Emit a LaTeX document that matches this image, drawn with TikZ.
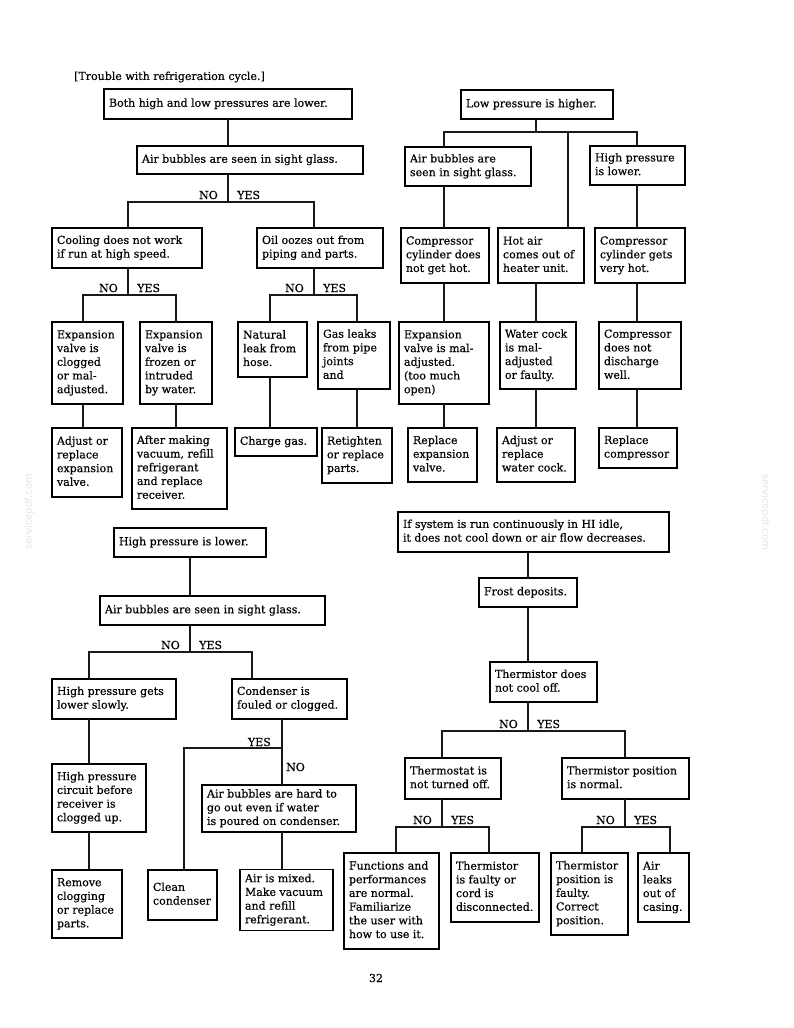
\documentclass[tikz,border=0pt]{standalone}
\usepackage{fontspec}
\setmainfont{DejaVu Serif}[FakeBold=0.4]
\setsansfont{DejaVu Sans}
\tikzset{
  tbox/.style={draw=black, line width=1.5pt, fill=white, inner xsep=5pt, inner ysep=3pt, outer sep=0pt,
    font=\fontsize{11}{13.7}\selectfont},
  conn/.style={draw=black!90, line width=1.2pt},
  lbl/.style={font=\fontsize{11}{13}\selectfont, inner sep=0pt},
  wmark/.style={text=black!10, font=\sffamily\fontsize{10}{12}\selectfont, inner sep=0pt},
}
\newcommand\bx[6]{\node[tbox, minimum width={(#4-#2)*1pt}, minimum height={(#5-#3)*1pt}] (#1) at ({(#2+#4)/2},{(#3+#5)/2})
  {\makebox[\dimexpr #4pt-#2pt-10pt\relax][l]{\begin{tabular}{@{}l@{}}#6\end{tabular}}};}
\newcommand\ny[2]{\node[lbl,anchor=base east] (#1n) at ([xshift=-10pt,yshift=3pt]#2) {NO};
  \node[lbl,anchor=base west] (#1y) at ([xshift=9pt,yshift=3pt]#2) {YES};}
\begin{document}
\begin{tikzpicture}[x=1pt,y=-1pt]
\useasboundingbox[fill=white] (0,0) rectangle (794,1028);

% watermarks and page number
\node[wmark, rotate=90] (wm1) at (29,512) {servicepdf.com};
\node[wmark, rotate=-90] (wm2) at (765,512) {servicepdf.com};
\node[lbl] (pg) at (376,978) {32};
\node[lbl, anchor=west] (title) at (74,77) {[Trouble with refrigeration cycle.]};

% ---------- top-left ----------
\bx{A1}{104}{89}{352}{119}{Both high and low pressures are lower.}
\bx{A2}{137}{146}{363}{174}{Air bubbles are seen in sight glass.}
\bx{A3}{52}{228}{202}{268}{Cooling does not work\\if run at high speed.}
\bx{A4}{257}{228}{383}{268}{Oil oozes out from\\piping and parts.}
\bx{A5}{52}{322}{123}{404}{Expansion\\valve is\\clogged\\or mal-\\adjusted.}
\bx{A6}{140}{322}{212}{404}{Expansion\\valve is\\frozen or\\intruded\\by water.}
\bx{A7}{52}{428}{122}{497}{Adjust or\\replace\\expansion\\valve.}
\bx{A8}{132}{428}{227}{509}{After making\\vacuum, refill\\refrigerant\\and replace\\receiver.}
\bx{A9}{238}{322}{307}{377}{Natural\\leak from\\hose.}
\bx{A10}{318}{322}{390}{389}{Gas leaks\\from pipe\\joints\\and}
\bx{A11}{235}{428}{317}{456}{Charge gas.}
\bx{A12}{322}{428}{392}{483}{Retighten\\or replace\\parts.}

\coordinate (J1) at (228,202); \coordinate (J1L) at (128,202); \coordinate (J1R) at (314,202);
\coordinate (J2) at (128,295); \coordinate (J2L) at (83,295); \coordinate (J2R) at (176,295);
\coordinate (J3) at (314,295); \coordinate (J3L) at (270,295); \coordinate (J3R) at (357,295);

\draw[conn] (A1.south) -- (A2.north -| A1.south);
\draw[conn] (A2.south -| J1) -- (J1);
\draw[conn] (A3.north -| J1L) -- (J1L) -- (J1R) -- (A4.north -| J1R);
\draw[conn] (A3.south -| J2) -- (J2);
\draw[conn] (A5.north -| J2L) -- (J2L) -- (J2R) -- (A6.north -| J2R);
\draw[conn] (A5.south -| J2L) -- (A7.north -| J2L);
\draw[conn] (A6.south -| J2R) -- (A8.north -| J2R);
\draw[conn] (A4.south -| J3) -- (J3);
\draw[conn] (A9.north -| J3L) -- (J3L) -- (J3R) -- (A10.north -| J3R);
\draw[conn] (A9.south -| J3L) -- (A11.north -| J3L);
\draw[conn] (A10.south -| J3R) -- (A12.north -| J3R);
\ny{J1}{J1}
\ny{J2}{J2}
\ny{J3}{J3}

% ---------- top-right ----------
\bx{B1}{461}{90}{613}{119}{Low pressure is higher.}
\bx{B2}{405}{147}{531}{186}{Air bubbles are\\seen in sight glass.}
\bx{B3}{590}{146}{685}{185}{High pressure\\is lower.}
\bx{B4}{401}{228}{489}{283}{Compressor\\cylinder does\\not get hot.}
\bx{B5}{498}{228}{584}{283}{Hot air\\comes out of\\heater unit.}
\bx{B6}{595}{228}{685}{283}{Compressor\\cylinder gets\\very hot.}
\bx{B7}{399}{322}{489}{404}{Expansion\\valve is mal-\\adjusted.\\(too much\\open)}
\bx{B8}{500}{322}{576}{389}{Water cock\\is mal-\\adjusted\\or faulty.}
\bx{B9}{599}{322}{681}{389}{Compressor\\does not\\discharge\\well.}
\bx{B10}{408}{428}{477}{482}{Replace\\expansion\\valve.}
\bx{B11}{497}{428}{575}{482}{Adjust or\\replace\\water cock.}
\bx{B12}{599}{428}{677}{468}{Replace\\compressor}

\coordinate (K1) at (536,132); \coordinate (K1L) at (444,132);
\coordinate (K1M) at (568,132); \coordinate (K1R) at (637,132);
\draw[conn] (B1.south -| K1) -- (K1);
\draw[conn] (B2.north -| K1L) -- (K1L) -- (K1R) -- (B3.north -| K1R);
\draw[conn] (K1M) -- (B5.north -| K1M);
\draw[conn] (B2.south -| K1L) -- (B4.north -| K1L);
\draw[conn] (B3.south -| K1R) -- (B6.north -| K1R);
\draw[conn] (B4.south -| K1L) -- (B7.north -| K1L);
\draw[conn] (B5.south -| K1) -- (B8.north -| K1);
\draw[conn] (B6.south -| K1R) -- (B9.north -| K1R);
\draw[conn] (B7.south -| K1L) -- (B10.north -| K1L);
\draw[conn] (B8.south -| K1) -- (B11.north -| K1);
\draw[conn] (B9.south -| K1R) -- (B12.north -| K1R);

% ---------- bottom-left ----------
\bx{C1}{114}{528}{266}{557}{High pressure is lower.}
\bx{C2}{100}{596}{325}{625}{Air bubbles are seen in sight glass.}
\bx{C3}{52}{679}{176}{719}{High pressure gets\\lower slowly.}
\bx{C4}{232}{679}{347}{719}{Condenser is\\fouled or clogged.}
\bx{C5}{52}{764}{146}{832}{High pressure\\circuit before\\receiver is\\clogged up.}
\bx{C6}{202}{785}{356}{832}{Air bubbles are hard to\\go out even if water\\is poured on condenser.}
\bx{C7}{52}{870}{122}{938}{Remove\\clogging\\or replace\\parts.}
\bx{C8}{148}{870}{217}{920}{Clean\\condenser}
\bx{C9}{240}{870}{333}{930}{Air is mixed.\\Make vacuum\\and refill\\refrigerant.}

\coordinate (L1) at (190,652); \coordinate (L1L) at (89,652); \coordinate (L1R) at (252,652);
\coordinate (L2) at (282,748); \coordinate (L2L) at (184,748);
\draw[conn] (C1.south -| L1) -- (C2.north -| L1);
\draw[conn] (C2.south -| L1) -- (L1);
\draw[conn] (C3.north -| L1L) -- (L1L) -- (L1R) -- (C4.north -| L1R);
\draw[conn] (C3.south -| L1L) -- (C5.north -| L1L);
\draw[conn] (C5.south -| L1L) -- (C7.north -| L1L);
\draw[conn] (C4.south -| L2) -- (C6.north -| L2);
\draw[conn] (L2) -- (L2L) -- (C8.north -| L2L);
\draw[conn] (C6.south -| L2) -- (C9.north -| L2);
\ny{L1}{L1}
\node[lbl, anchor=base east] (L2y) at ([xshift=-11pt,yshift=2pt]L2) {YES};
\node[lbl, anchor=base west] (L2n) at ([xshift=4pt,yshift=-23pt]L2) {NO};

% ---------- bottom-right ----------
\bx{D1}{398}{512}{669}{552}{If system is run continuously in HI idle,\\it does not cool down or air flow decreases.}
\bx{D2}{479}{578}{577}{607}{Frost deposits.}
\bx{D3}{490}{662}{597}{702}{Thermistor does\\not cool off.}
\bx{D4}{405}{758}{501}{799}{Thermostat is\\not turned off.}
\bx{D5}{562}{758}{689}{799}{Thermistor position\\is normal.}
\bx{D6}{344}{853}{439}{949}{Functions and\\performances\\are normal.\\Familiarize\\the user with\\how to use it.}
\bx{D7}{451}{853}{539}{922}{Thermistor\\is faulty or\\cord is\\disconnected.}
\bx{D8}{551}{853}{628}{935}{Thermistor\\position is\\faulty.\\Correct\\position.}
\bx{D9}{638}{853}{689}{922}{Air\\leaks\\out of\\casing.}

\coordinate (M1) at (528,731); \coordinate (M1L) at (442,731); \coordinate (M1R) at (625,731);
\coordinate (M2) at (442,827); \coordinate (M2L) at (396,827); \coordinate (M2R) at (489,827);
\coordinate (M3) at (625,827); \coordinate (M3L) at (582,827); \coordinate (M3R) at (670,827);
\draw[conn] (D1.south -| M1) -- (D2.north -| M1);
\draw[conn] (D2.south -| M1) -- (D3.north -| M1);
\draw[conn] (D3.south -| M1) -- (M1);
\draw[conn] (D4.north -| M1L) -- (M1L) -- (M1R) -- (D5.north -| M1R);
\draw[conn] (D4.south -| M2) -- (M2);
\draw[conn] (D6.north -| M2L) -- (M2L) -- (M2R) -- (D7.north -| M2R);
\draw[conn] (D5.south -| M3) -- (M3);
\draw[conn] (D8.north -| M3L) -- (M3L) -- (M3R) -- (D9.north -| M3R);
\ny{M1}{M1}
\ny{M2}{M2}
\ny{M3}{M3}
\end{tikzpicture}
\end{document}
